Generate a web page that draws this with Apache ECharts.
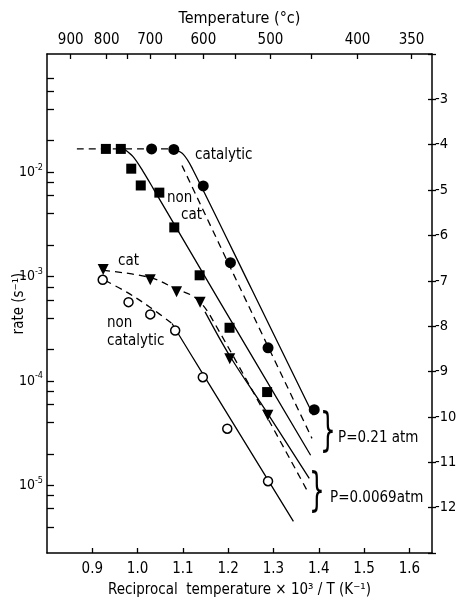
<!DOCTYPE html>
<html>
<head>
<meta charset="utf-8">
<script src="https://cdn.jsdelivr.net/npm/echarts@6/dist/echarts.min.js"></script>
<style>
  html, body { margin: 0; padding: 0; background: #fff; }
  #chart { width: 456px; height: 602px; }
</style>
</head>
<body>
<div id="chart"></div>
<script>
// reciprocal temperature 1000/T (K^-1) and rate (s^-1)
// P = 0.21 atm
const nonCatHiX = [0.930, 0.963, 0.986, 1.007, 1.048, 1.081, 1.137, 1.203, 1.286]
const nonCatHiRate = [0.0167, 0.0167, 0.0108, 0.00746, 0.00637, 0.00296, 0.00103, 3.24e-4, 7.85e-5]
const catHiX = [1.031, 1.080, 1.145, 1.205, 1.288, 1.390]
const catHiRate = [0.0167, 0.0165, 7.38e-3, 1.36e-3, 2.08e-4, 5.32e-5]
// P = 0.0069 atm
const catLoX = [0.924, 1.028, 1.086, 1.138, 1.2035, 1.2876]
const catLoRate = [1.17e-3, 9.33e-4, 7.15e-4, 5.70e-4, 1.64e-4, 4.70e-5]
const nonCatLoX = [0.923, 0.980, 1.028, 1.083, 1.144, 1.198, 1.288]
const nonCatLoRate = [9.33e-4, 5.70e-4, 4.35e-4, 3.05e-4, 1.09e-4, 3.50e-5, 1.10e-5]

// drawn curves
const topDashX = [0.866, 1.081]
const topDashRate = [0.0167, 0.0167]
const catHiFitX = [1.081, 1.101, 1.121, 1.253, 1.388]
const catHiFitRate = [0.0165, 0.0148, 0.0108, 7.4e-4, 4.7e-5]
const hiDashFitX = [1.098, 1.230, 1.385]
const hiDashFitRate = [0.0116, 7.2e-4, 2.83e-5]
const nonCatHiFitX = [0.970, 0.990, 1.012, 1.035, 1.179, 1.382]
const nonCatHiFitRate = [0.0167, 0.0141, 0.0102, 6.93e-3, 6.0e-4, 1.95e-5]
const catLoDashX = [0.924, 1.028, 1.087, 1.127, 1.160, 1.374]
const catLoDashRate = [1.15e-3, 9.8e-4, 7.55e-4, 6.3e-4, 4.25e-4, 9.0e-6]
const catLoFitX = [1.149, 1.204, 1.287, 1.379]
const catLoFitRate = [4.6e-4, 1.73e-4, 4.9e-5, 1.17e-5]
const nonCatLoDashX = [0.928, 0.977, 1.028, 1.076]
const nonCatLoDashRate = [9.2e-4, 7.06e-4, 5.07e-4, 3.56e-4]
const nonCatLoFitX = [1.076, 1.143, 1.344]
const nonCatLoFitRate = [3.56e-4, 1.19e-4, 4.54e-6]

// axes
const recipTicks = [0.9, 1.0, 1.1, 1.2, 1.3, 1.4, 1.5, 1.6]
const tempTicksC = [900, 800, 750, 700, 650, 600, 550, 500, 450, 400, 350]
const tempLabelsC = [900, 800, 700, 600, 500, 400, 350]
const rateDecades = [-2, -3, -4, -5]
const lnRateLabels = [-3, -4, -5, -6, -7, -8, -9, -10, -11, -12]

const font = "'Liberation Sans Narrow', 'DejaVu Sans Condensed', sans-serif"
const lnMin = -13
const lnMax = -2

const toC = t => 1000 / (t + 273.15)
const pts = (xs, rates) => xs.map((x, i) => [x, Math.log10(rates[i])])

// minor ticks at 2,4,6,8 per decade
const rateTicks = []
for (let n = -6; n <= -1; n++) {
  [1, 2, 4, 6, 8].forEach(k => {
    const v = n + Math.log10(k)
    if (v > lnMin / Math.LN10 && v < -1.01) rateTicks.push(v)
  })
}

const line = (data, dashed) => ({
  type: 'line',
  data: data,
  showSymbol: false,
  smooth: 0.35,
  silent: true,
  lineStyle: { color: '#000', width: 1.3, type: dashed ? [7, 5] : 'solid' },
  z: 2
})
const dots = (data, symbol, size, rotate, open) => ({
  type: 'scatter',
  data: data,
  symbol: symbol,
  symbolSize: size,
  symbolRotate: rotate || 0,
  itemStyle: open
    ? { color: '#fff', borderColor: '#000', borderWidth: 1.5, opacity: 1 }
    : { color: '#000', opacity: 1 },
  z: 3
})

const chart = echarts.init(document.getElementById('chart'))
const txt = (s, x, y, size, extra) => Object.assign({
  type: 'text', left: x, top: y,
  style: { text: s, fontSize: size || 15, fontFamily: font, fill: '#000' }
}, extra || {})

chart.setOption({
  animation: false,
  backgroundColor: '#fff',
  grid: { left: 47, right: 24, top: 54, bottom: 49, containLabel: false, outerBoundsMode: 'none' },
  xAxis: [{
    type: 'value', position: 'bottom', min: 0.8, max: 1.65,
    name: 'Reciprocal  temperature × 10³ / T (K⁻¹)',
    nameLocation: 'middle', nameGap: 30, nameMoveOverlap: false,
    nameTextStyle: { fontFamily: font, fontSize: 15, color: '#000' },
    axisLine: { lineStyle: { color: '#000', width: 1.5 } },
    axisTick: { inside: true, length: 5, customValues: recipTicks, lineStyle: { color: '#000', width: 1.3 } },
    axisLabel: { customValues: recipTicks, formatter: v => v.toFixed(1), margin: 9, fontSize: 15, fontFamily: font, color: '#000' },
    splitLine: { show: false }
  }, {
    type: 'value', position: 'top', min: 0.8, max: 1.65,
    name: 'Temperature (°c)',
    nameLocation: 'middle', nameGap: 27, nameMoveOverlap: false,
    nameTextStyle: { fontFamily: font, fontSize: 16, color: '#000' },
    axisLine: { lineStyle: { color: '#000', width: 1.5 } },
    axisTick: { inside: true, length: 5, customValues: tempTicksC.map(toC), lineStyle: { color: '#000', width: 1.3 } },
    axisLabel: { customValues: tempLabelsC.map(toC), formatter: v => Math.round(1000 / v - 273.15), margin: 6, fontSize: 15, fontFamily: font, color: '#000' },
    splitLine: { show: false }
  }],
  yAxis: [{
    type: 'value', position: 'left', min: lnMin / Math.LN10, max: lnMax / Math.LN10,
    name: 'rate (s⁻¹)',
    nameLocation: 'middle', nameGap: 20, nameMoveOverlap: false,
    nameTextStyle: { fontFamily: font, fontSize: 15, color: '#000' },
    axisLine: { lineStyle: { color: '#000', width: 1.5 } },
    axisTick: { inside: true, length: 7, customValues: rateTicks, lineStyle: { color: '#000', width: 1.3 } },
    axisLabel: {
      customValues: rateDecades,
      formatter: v => '10{s|' + Math.round(v) + '}',
      margin: 4, fontSize: 14, fontFamily: font, color: '#000',
      rich: { s: { fontSize: 9, fontFamily: font, padding: [0, 0, 10, 0] } }
    },
    splitLine: { show: false }
  }, {
    type: 'value', position: 'right', min: lnMin, max: lnMax, interval: 1,
    axisLine: { lineStyle: { color: '#000', width: 1.5 } },
    axisTick: { inside: false, length: 4, lineStyle: { color: '#000', width: 1.3 } },
    axisLabel: {
      customValues: lnRateLabels, margin: 3,
      fontSize: 14.5, fontFamily: font, color: '#000'
    },
    splitLine: { show: false }
  }, {
    type: 'value', position: 'right', min: lnMin, max: lnMax, interval: 1,
    axisLine: { show: false },
    axisTick: { inside: true, length: 4, lineStyle: { color: '#000', width: 1.3 } },
    axisLabel: { show: false },
    splitLine: { show: false }
  }],
  series: [
    line(pts(topDashX, topDashRate), true),
    line(pts(catHiFitX, catHiFitRate), false),
    line(pts(hiDashFitX, hiDashFitRate), true),
    line(pts(nonCatHiFitX, nonCatHiFitRate), false),
    line(pts(catLoDashX, catLoDashRate), true),
    line(pts(catLoFitX, catLoFitRate), false),
    line(pts(nonCatLoDashX, nonCatLoDashRate), true),
    line(pts(nonCatLoFitX, nonCatLoFitRate), false),
    dots(pts(nonCatHiX, nonCatHiRate), 'rect', 10),
    dots(pts(catHiX, catHiRate), 'circle', 11),
    dots(pts(catLoX, catLoRate), 'triangle', 11, 180),
    dots(pts(nonCatLoX, nonCatLoRate), 'circle', 9, 0, true)
  ],
  graphic: [
    txt('catalytic', 195, 148),
    txt('non', 167, 191),
    txt('cat', 181, 208),
    txt('cat', 118, 254),
    txt('non', 107, 316),
    txt('catalytic', 107, 334),
    txt('}', 320, 410, 46, { scaleX: 0.6 }),
    txt('P=0.21 atm', 338, 431),
    txt('}', 309, 470, 46, { scaleX: 0.6 }),
    txt('P=0.0069atm', 330, 491)
  ]
})
</script>
</body>
</html>
